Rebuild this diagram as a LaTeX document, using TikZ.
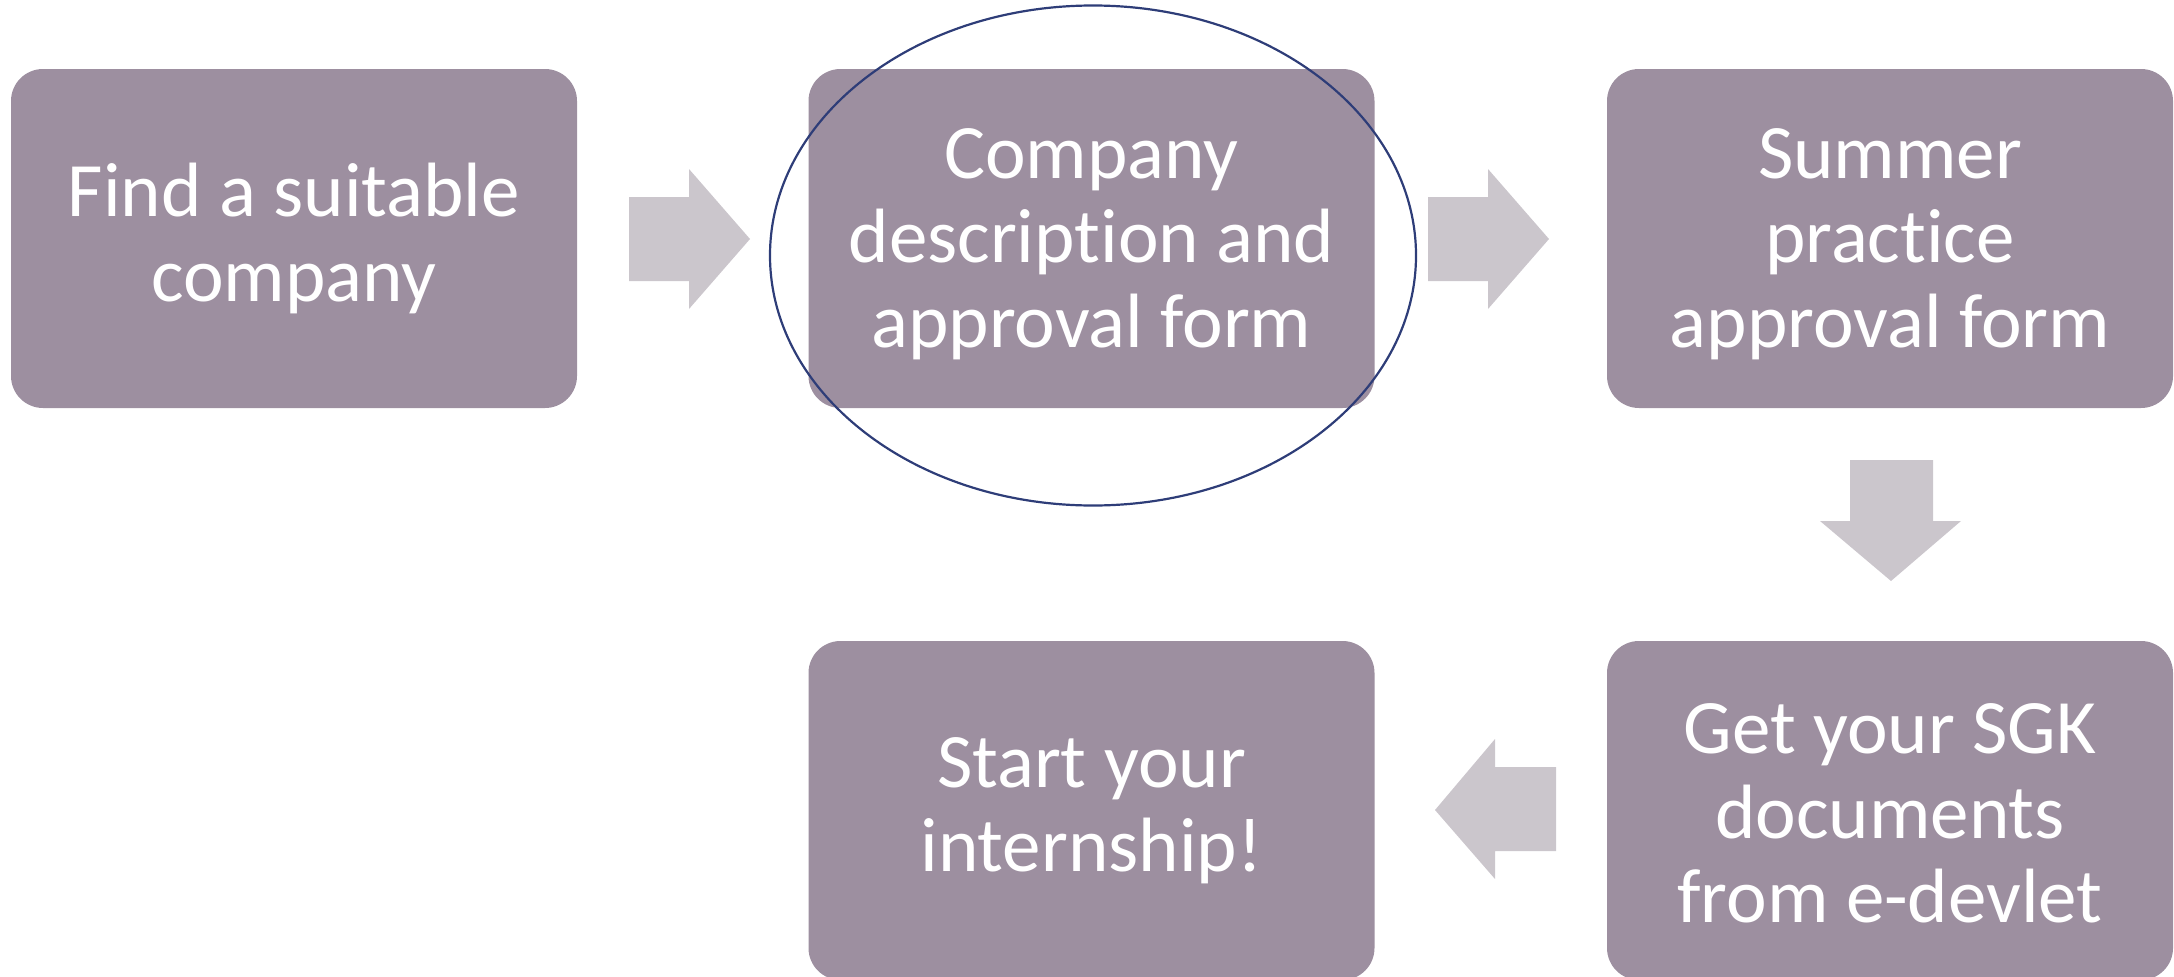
\documentclass[tikz,border=0pt]{standalone}
\usepackage{fontspec}
\setmainfont{Carlito}[Ligatures={NoCommon}]
\definecolor{boxfill}{HTML}{9D8FA0}
\definecolor{arrowfill}{HTML}{CBC6CC}
\definecolor{ringcol}{HTML}{2E3D78}
\begin{document}
\begin{tikzpicture}[x=1pt,y=-1pt,
  stepbox/.style={rectangle, rounded corners=32pt, fill=boxfill, draw=none,
    minimum width=566pt, minimum height=339pt, inner sep=0pt},
  steptext/.style={inner sep=0pt, text=white, align=center,
    font=\fontsize{77}{84.5}\selectfont},
  blockarrow/.style={fill=arrowfill, draw=none}]
\useasboundingbox (0,0) rectangle (2174,977);

% process steps
\node[stepbox] (find)   at (294,238.5)    {};
\node[stepbox] (desc)   at (1091.5,238.5) {};
\node[stepbox] (summer) at (1890,238.5)   {};
\node[stepbox] (sgk)    at (1890,810.5)   {};
\node[stepbox] (start)  at (1091.5,810.5) {};

% step labels
\node[steptext] (findtext)   at (find.center)                {Find a suitable\\company};
\node[steptext] (desctext)   at ([yshift=-5.5pt]desc.center)   {Company\\description and\\approval form};
\node[steptext] (summertext) at ([yshift=-5.5pt]summer.center) {Summer\\practice\\approval form};
\node[steptext] (sgktext)    at ([yshift=-3pt]sgk.center)      {Get your SGK\\documents\\from e-devlet};
\node[steptext] (starttext)  at (start.center)               {Start your\\internship!};

% block arrows between the steps
\fill[blockarrow] (629,197) -- (689,197) -- (689,169) -- (750,239) -- (689,309) -- (689,281) -- (629,281) -- cycle;
\fill[blockarrow] (1428,197) -- (1488,197) -- (1488,169) -- (1549,239) -- (1488,309) -- (1488,281) -- (1428,281) -- cycle;
\fill[blockarrow] (1850,460) -- (1933,460) -- (1933,521) -- (1961,521) -- (1891,581) -- (1820,521) -- (1850,521) -- cycle;
\fill[blockarrow] (1556,767) -- (1495,767) -- (1495,739) -- (1435,810) -- (1495,879) -- (1495,851) -- (1556,851) -- cycle;

% highlight ring around the second step
\draw[ringcol, line width=2.2pt] (desc.center) ++(1.5,17) ellipse [x radius=323, y radius=250];
\end{tikzpicture}
\end{document}
